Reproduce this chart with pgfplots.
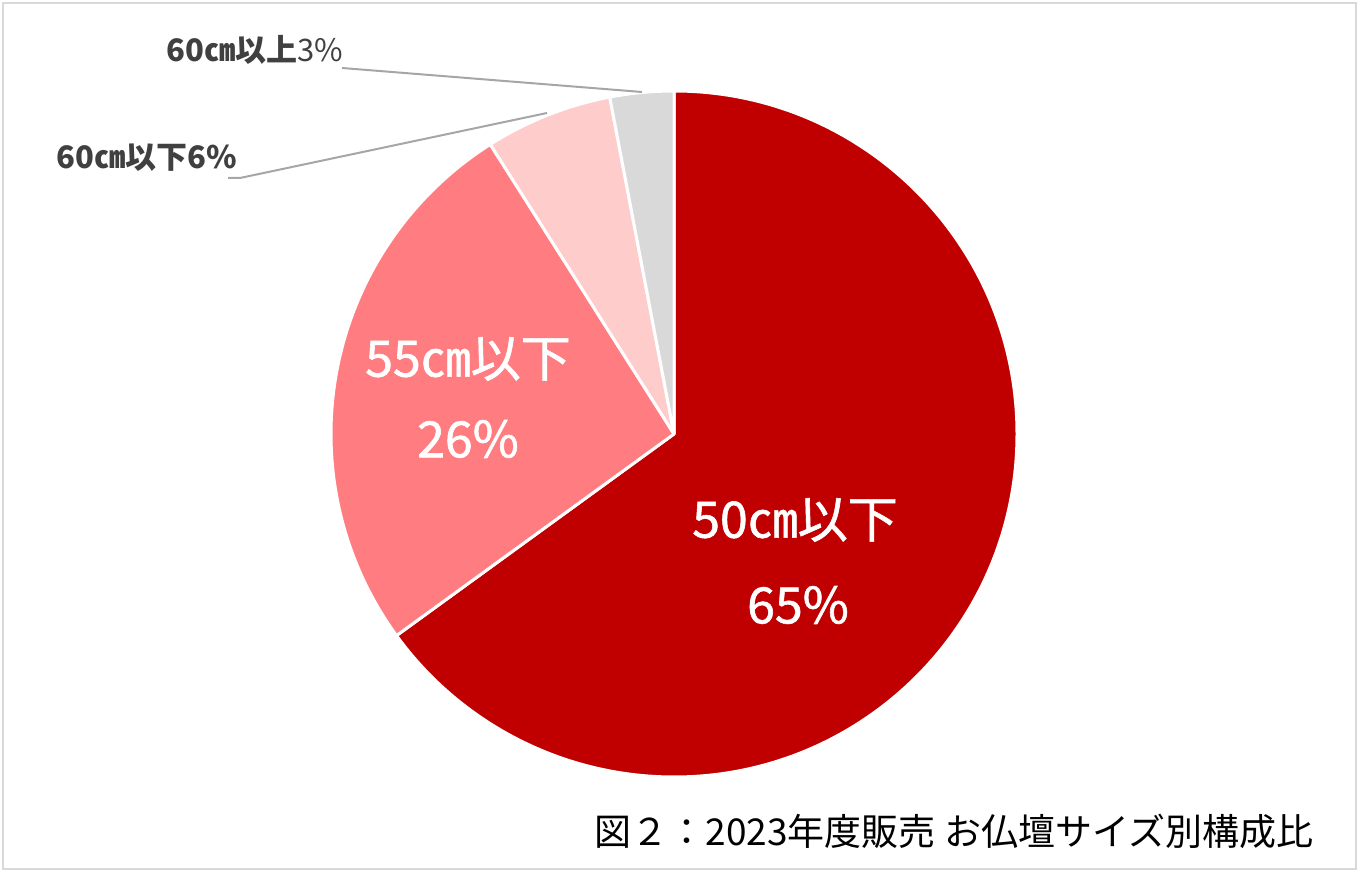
\documentclass[border=0pt]{standalone}
\usepackage{pgfplots}
\usepackage{pgfplotstable}
\pgfplotsset{compat=1.18}
\usepackage{fontspec}
\setmainfont{Noto Sans CJK JP}
\definecolor{slice0}{HTML}{C00000}
\definecolor{slice1}{HTML}{FF7C80}
\definecolor{slice2}{HTML}{FFCCCC}
\definecolor{slice3}{HTML}{D9D9D9}
\definecolor{labgray}{HTML}{404040}
\definecolor{leadgray}{HTML}{A6A6A6}
\definecolor{framegray}{HTML}{D9D9D9}

\pgfplotstableread{
idx value
0 65
1 26
2 6
3 3
}\piedata

\begin{document}
\begin{tikzpicture}
\begin{axis}[
  x=0.5pt, y=0.5pt,
  xmin=0, xmax=1360, ymin=0, ymax=878,
  hide axis, clip=false,
]
% bounding area and frame
\path (axis cs:0,0) rectangle (axis cs:1360,878);
\draw[framegray, line width=1.2pt] (axis cs:3,9) rectangle (axis cs:1356,875);
% pie slices from data (clockwise from 12 o'clock)
\xdef\cum{0}
\pgfplotsinvokeforeach{0,1,2,3}{
  \pgfplotstablegetelem{#1}{value}\of\piedata
  \pgfmathsetmacro{\sa}{90-3.6*\cum}
  \pgfmathsetmacro{\newcum}{\cum+\pgfplotsretval}
  \pgfmathsetmacro{\ea}{90-3.6*\newcum}
  \xdef\cum{\newcum}
  \edef\temp{\noexpand\filldraw[fill=slice#1, draw=white, line width=1.5pt, line join=round]
    (axis cs:674,444) -- ++(\sa:171.5pt) arc[start angle=\sa, end angle=\ea, radius=171.5pt] -- cycle;}
  \temp
}
% inside labels
\tikzset{inlab/.style={white, font=\fontsize{25}{30}\selectfont\addfontfeature{FakeBold=1.2}}}
\node[inlab] at (axis cs:795,358) {50㎝以下};
\node[inlab] at (axis cs:798,273) {65\%};
\node[inlab] at (axis cs:468,519) {55㎝以下};
\node[inlab] at (axis cs:468,439) {26\%};
% leader lines
\draw[leadgray, line width=1pt] (axis cs:342,810) -- (axis cs:642,786);
\draw[leadgray, line width=1pt] (axis cs:228,700) -- (axis cs:240,700) -- (axis cs:547,765);
% outer labels
\node[labgray, font=\fontsize{15.5}{18}\selectfont, inner sep=0pt] at (axis cs:255,828) {\textbf{60㎝以上}3\%};
\node[labgray, font=\fontsize{15.5}{18}\selectfont\bfseries, inner sep=0pt] at (axis cs:147,720) {60㎝以下6\%};
% caption
\node[black, font=\fontsize{18.5}{22}\selectfont, inner sep=0pt] at (axis cs:954,47) {図２：2023年度販売 お仏壇サイズ別構成比};
\end{axis}
\end{tikzpicture}
\end{document}
